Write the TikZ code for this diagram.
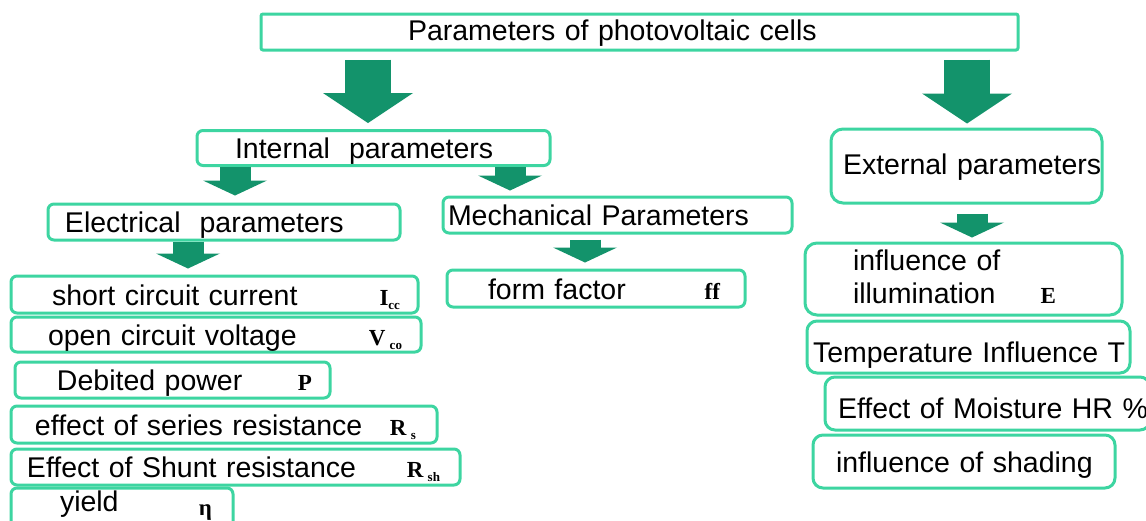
\documentclass[tikz,border=0pt]{standalone}
\usepackage{fontspec}
\setmainfont{Liberation Sans}
\newfontfamily\symfont{Liberation Serif}
\usepackage{tikz}
\usetikzlibrary{arrows.meta,calc}
\definecolor{BoxGreen}{HTML}{3DD5A1}
\definecolor{ArrowGreen}{HTML}{13936B}
% bold serif symbol with a small lowered index
\newcommand{\pvsym}[2]{{\symfont\bfseries\fontsize{23}{23}\selectfont #1\raisebox{-4pt}{\fontsize{13}{13}\selectfont #2}}}
\tikzset{
  pbox/.style={draw=BoxGreen, line width=3pt, rounded corners=6pt, fill=white,
    inner sep=0pt, align=left, font=\fontsize{28.5}{33}\selectfont},
  oneline/.style={pbox, text height=21pt, text depth=0pt},
  fatarrow/.style={draw=ArrowGreen, line width=46pt,
    -{Triangle[length=30pt,width=90pt,line width=0pt]}},
  thinarrow/.style={draw=ArrowGreen, line width=31pt,
    -{Triangle[length=15pt,width=64pt,line width=0pt]}}
}

\begin{document}
\begin{tikzpicture}[x=1pt, y=-1pt]
\useasboundingbox (0,0) rectangle (1146,520);

% top level
\node[oneline, rounded corners=2pt, text width=757pt, minimum height=36pt] at (639.5,32) (title) {\hspace*{147pt}\raisebox{2pt}{Parameters of photovoltaic cells}};
\node[oneline, text width=353pt, minimum height=35pt] at (373.5,148) (int) {\hspace*{38pt}Internal~ parameters};
\node[oneline, rounded corners=12pt, text width=271pt, minimum height=74pt] at (966.5,166) (ext) {\hspace*{12pt}\raisebox{2pt}{External parameters}};

% internal branch
\node[oneline, text width=352pt, minimum height=36pt] at (224,222) (elec) {\hspace*{17pt}Electrical~ parameters};
\node[oneline, text width=349pt, minimum height=36pt] at (617.5,215) (mech) {\hspace*{5pt}Mechanical Parameters};
\node[oneline, text width=298pt, minimum height=37pt] at (596,288.5) (ff) {\hspace*{41pt}form factor\hfill\pvsym{ff}{}\hspace*{25pt}\mbox{}};

\node[oneline, text width=407pt, minimum height=37pt] at (214.5,294.5) (scc) {\hspace*{41pt}short circuit current\hfill\pvsym{I}{cc}\hspace*{18pt}\mbox{}};
\node[oneline, text width=410pt, minimum height=35pt] at (216,334.5) (ocv) {\hspace*{37pt}open circuit voltage\hfill\pvsym{V}{\,\,co}\hspace*{19pt}\mbox{}};
\node[oneline, text width=315pt, minimum height=36pt] at (172.5,380) (power) {\hspace*{42pt}Debited power\hfill\pvsym{P}{}\hspace*{18pt}\mbox{}};
\node[oneline, text width=426pt, minimum height=37pt] at (224,424.5) (series) {\hspace*{24pt}effect of series resistance\hfill\pvsym{R}{\,\,s}\hspace*{21pt}\mbox{}};
\node[oneline, text width=449pt, minimum height=36pt] at (235.5,467) (shunt) {\hspace*{16pt}Effect of Shunt resistance\hfill\pvsym{R}{\,\,sh}\hspace*{20pt}\mbox{}};
\node[oneline, text width=222pt, minimum height=40pt] at (122,508) (yield) {\hspace*{49pt}\raisebox{7pt}{yield}\hfill\raisebox{3pt}{\pvsym{η}{}}\hspace*{21pt}\mbox{}};

% external branch
\node[pbox, rounded corners=12pt, text width=317pt, minimum height=72pt] at (963.5,279) (illum) {\hspace*{48pt}influence of\\\hspace*{48pt}illumination\hspace{45pt}\pvsym{E}{}};
\node[oneline, rounded corners=10pt, text width=323pt, minimum height=52pt] at (968.5,347) (temp) {\hspace*{6pt}\raisebox{-5pt}{Temperature Influence T}};
\node[oneline, rounded corners=10pt, text width=325pt, minimum height=53pt] at (987.5,403.5) (moist) {\hspace*{13pt}\raisebox{-4pt}{Effect of Moisture HR \%}};
\node[oneline, rounded corners=10pt, text width=302pt, minimum height=53pt] at (964,461.5) (shade) {\hspace*{23pt}influence of shading};

% block arrows
\draw[fatarrow] ($(title.south -| int.north)+(-5.5,8)$) -- ($(int.north)+(-5.5,-6)$);
\draw[fatarrow] ($(title.south -| ext.north)+(0.5,8)$) -- ($(ext.north)+(0.5,-4)$);
\draw[thinarrow] ($(int.south -| elec.north)+(11,0)$) -- ($(elec.north)+(11,-7)$);
\draw[thinarrow] ($(int.south -| mech.north)+(-107.5,0)$) -- ($(mech.north)+(-107.5,-5)$);
\draw[thinarrow] ($(elec.south)+(-36,0)$) -- ($(elec.south |- scc.north)+(-36,-6)$);
\draw[thinarrow] ($(mech.south)+(-32.5,5)$) -- ($(mech.south |- ff.north)+(-32.5,-6)$);
\draw[thinarrow] ($(ext.south)+(5.5,9)$) -- ($(ext.south |- illum.north)+(5.5,-4)$);
\end{tikzpicture}
\end{document}
